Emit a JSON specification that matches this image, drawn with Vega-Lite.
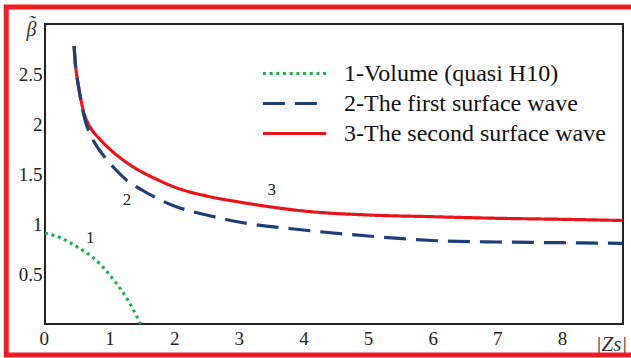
{
  "$schema": "https://vega.github.io/schema/vega-lite/v6.json",
  "width": 578,
  "height": 300,
  "autosize": {"type": "none"},
  "padding": {"left": 45, "top": 24, "right": 8, "bottom": 34},
  "background": "white",
  "config": {
    "view": {"stroke": "#222", "strokeWidth": 2},
    "font": "Liberation Serif",
    "axis": {"domain": false, "ticks": false, "gridColor": "#c8c8c8", "gridWidth": 1.5, "labelColor": "#222", "labelFont": "Liberation Serif", "labelFontSize": 19, "titleFont": "Liberation Serif", "titleColor": "#333", "titleFontWeight": "normal"}
  },
  "datasets": {
    "curves": [
      {"series": "3-The second surface wave", "x": 0.45, "y": 2.78},
      {"series": "3-The second surface wave", "x": 0.47, "y": 2.6},
      {"series": "3-The second surface wave", "x": 0.5, "y": 2.45},
      {"series": "3-The second surface wave", "x": 0.54, "y": 2.3},
      {"series": "3-The second surface wave", "x": 0.59, "y": 2.14},
      {"series": "3-The second surface wave", "x": 0.67, "y": 2.0},
      {"series": "3-The second surface wave", "x": 0.75, "y": 1.92},
      {"series": "3-The second surface wave", "x": 0.83, "y": 1.86},
      {"series": "3-The second surface wave", "x": 1.0, "y": 1.75},
      {"series": "3-The second surface wave", "x": 1.25, "y": 1.62},
      {"series": "3-The second surface wave", "x": 1.5, "y": 1.52},
      {"series": "3-The second surface wave", "x": 1.75, "y": 1.44},
      {"series": "3-The second surface wave", "x": 2.0, "y": 1.37},
      {"series": "3-The second surface wave", "x": 2.5, "y": 1.28},
      {"series": "3-The second surface wave", "x": 3.0, "y": 1.22},
      {"series": "3-The second surface wave", "x": 3.5, "y": 1.17},
      {"series": "3-The second surface wave", "x": 4.0, "y": 1.13},
      {"series": "3-The second surface wave", "x": 5.0, "y": 1.09},
      {"series": "3-The second surface wave", "x": 6.0, "y": 1.073},
      {"series": "3-The second surface wave", "x": 7.0, "y": 1.057},
      {"series": "3-The second surface wave", "x": 8.0, "y": 1.047},
      {"series": "3-The second surface wave", "x": 8.94, "y": 1.035},
      {"series": "2-The first surface wave", "x": 0.45, "y": 2.78},
      {"series": "2-The first surface wave", "x": 0.47, "y": 2.6},
      {"series": "2-The first surface wave", "x": 0.5, "y": 2.45},
      {"series": "2-The first surface wave", "x": 0.54, "y": 2.29},
      {"series": "2-The first surface wave", "x": 0.62, "y": 2.04},
      {"series": "2-The first surface wave", "x": 0.72, "y": 1.87},
      {"series": "2-The first surface wave", "x": 0.83, "y": 1.75},
      {"series": "2-The first surface wave", "x": 0.96, "y": 1.64},
      {"series": "2-The first surface wave", "x": 1.1, "y": 1.54},
      {"series": "2-The first surface wave", "x": 1.26, "y": 1.44},
      {"series": "2-The first surface wave", "x": 1.5, "y": 1.34},
      {"series": "2-The first surface wave", "x": 2.0, "y": 1.18},
      {"series": "2-The first surface wave", "x": 2.5, "y": 1.09},
      {"series": "2-The first surface wave", "x": 3.0, "y": 1.02},
      {"series": "2-The first surface wave", "x": 4.0, "y": 0.94},
      {"series": "2-The first surface wave", "x": 5.0, "y": 0.88},
      {"series": "2-The first surface wave", "x": 6.0, "y": 0.835},
      {"series": "2-The first surface wave", "x": 7.0, "y": 0.82},
      {"series": "2-The first surface wave", "x": 8.0, "y": 0.813},
      {"series": "2-The first surface wave", "x": 8.94, "y": 0.807},
      {"series": "1-Volume (quasi H10)", "x": 0.0, "y": 0.91},
      {"series": "1-Volume (quasi H10)", "x": 0.25, "y": 0.86},
      {"series": "1-Volume (quasi H10)", "x": 0.5, "y": 0.77},
      {"series": "1-Volume (quasi H10)", "x": 0.75, "y": 0.66},
      {"series": "1-Volume (quasi H10)", "x": 0.95, "y": 0.53},
      {"series": "1-Volume (quasi H10)", "x": 1.1, "y": 0.41},
      {"series": "1-Volume (quasi H10)", "x": 1.3, "y": 0.22},
      {"series": "1-Volume (quasi H10)", "x": 1.48, "y": 0.0}
    ],
    "labels": [
      {"t": "1", "x": 0.7, "y": 0.86},
      {"t": "2", "x": 1.27, "y": 1.24},
      {"t": "3", "x": 3.51, "y": 1.34}
    ]
  },
  "layer": [
    {
      "data": {"values": [{}]},
      "mark": {"type": "rect", "fill": null, "stroke": "#ee1c24", "strokeWidth": 5, "clip": false},
      "encoding": {
        "x": {"datum": -0.6},
        "x2": {"datum": 9.3},
        "y": {"datum": 3.17},
        "y2": {"datum": -0.31}
      }
    },
    {
      "data": {"name": "curves"},
      "mark": {"type": "line", "interpolate": "monotone", "strokeWidth": 3.2, "strokeCap": "butt"},
      "encoding": {
        "x": {"field": "x", "type": "quantitative", "scale": {"domain": [0, 8.944], "nice": false, "zero": false},
          "axis": {"values": [0, 1, 2, 3, 4, 5, 6, 7, 8], "format": "~g", "labelPadding": 5, "labelOffset": {"condition": {"test": "datum.value == 0", "value": -6}, "value": 0},
            "title": "|Zs|", "titleFontStyle": "italic", "titleFontSize": 21, "titleX": 566, "titleY": 26, "titleAlign": "center", "titleBaseline": "alphabetic"}},
        "y": {"field": "y", "type": "quantitative", "scale": {"domain": [0, 3], "nice": false},
          "axis": {"values": [0.5, 1, 1.5, 2, 2.5], "format": "~g", "labelPadding": 3,
            "title": ["˜", "β"], "titleFontStyle": "italic", "titleFontSize": 20, "titleLineHeight": 6, "titleAngle": 0, "titleX": -14, "titleY": 9, "titleAlign": "center", "titleBaseline": "bottom", "zindex": 2}},
        "color": {"field": "series", "type": "nominal",
          "scale": {"domain": ["1-Volume (quasi H10)", "2-The first surface wave", "3-The second surface wave"], "range": ["#1fae4b", "#1d3f78", "#e8141c"]},
          "legend": {"orient": "none", "legendX": 222, "legendY": 22, "title": null, "fillColor": "white", "padding": 10,
            "symbolType": "M-2,0H2", "symbolSize": 1000, "symbolStrokeWidth": 3.2, "labelFont": "Liberation Serif", "labelFontSize": 24, "labelColor": "#111", "labelOffset": 32, "rowPadding": 0, "labelLimit": 400}},
        "strokeDash": {"field": "series", "type": "nominal",
          "scale": {"domain": ["1-Volume (quasi H10)", "2-The first surface wave", "3-The second surface wave"], "range": [[3, 3.7], [22, 10], [1, 0]]},
          "legend": null}
      }
    },
    {
      "data": {"name": "labels"},
      "mark": {"type": "text", "font": "Liberation Serif", "fontSize": 17, "color": "#222"},
      "encoding": {
        "x": {"field": "x", "type": "quantitative"},
        "y": {"field": "y", "type": "quantitative"},
        "text": {"field": "t"}
      }
    }
  ]
}
